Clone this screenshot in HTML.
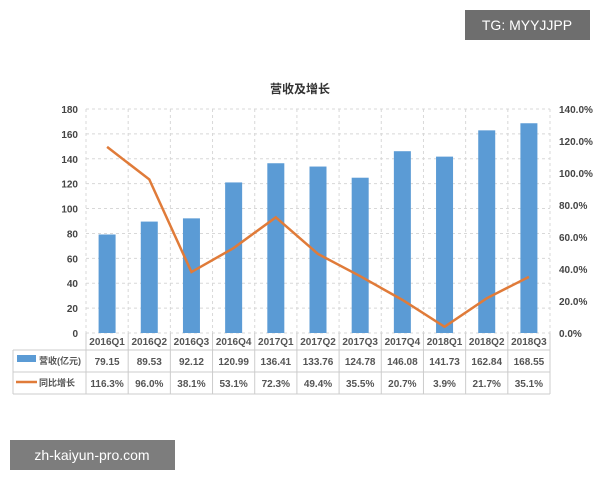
<!DOCTYPE html>
<html><head><meta charset="utf-8"><style>
body{margin:0;width:600px;height:480px;background:#fff;overflow:hidden;font-family:"Liberation Sans","Noto Sans CJK SC",sans-serif}
</style></head><body>
<svg id="c" width="600" height="480" xmlns="http://www.w3.org/2000/svg"></svg>
<script>
const categories=["2016Q1","2016Q2","2016Q3","2016Q4","2017Q1","2017Q2","2017Q3","2017Q4","2018Q1","2018Q2","2018Q3"];
const revenue=[79.15,89.53,92.12,120.99,136.41,133.76,124.78,146.08,141.73,162.84,168.55];
const growth=[116.3,96.0,38.1,53.1,72.3,49.4,35.5,20.7,3.9,21.7,35.1];
const leftTicks=[0,20,40,60,80,100,120,140,160,180];
const rightTicks=[0,20,40,60,80,100,120,140];
const svg=document.getElementById('c');const NS='http://www.w3.org/2000/svg';
function mk(t,a,txt){const e=document.createElementNS(NS,t);for(const k in a)e.setAttribute(k,a[k]);if(txt!=null)e.textContent=txt;svg.appendChild(e);return e;}
const X0=86,X1=550,Y0=333,Y1=109;const cw=(X1-X0)/categories.length;
const yL=v=>Y0-(v/180)*(Y0-Y1);const yR=v=>Y0-(v/140)*(Y0-Y1);const xc=i=>X0+cw*(i+0.5);
// grid
leftTicks.forEach(v=>{const l=mk('line',{x1:X0,x2:X1,y1:yL(v),y2:yL(v),stroke:'#d8d8d8','stroke-dasharray':'3,3'});
const t=mk('text',{x:78,y:yL(v)+4,'text-anchor':'end','font-size':10,'font-weight':'bold',fill:'#444'},v);});
for(let i=0;i<=categories.length;i++){mk('line',{x1:X0+cw*i,x2:X0+cw*i,y1:Y1,y2:Y0,stroke:'#d8d8d8','stroke-dasharray':'3,3'});}
rightTicks.forEach(v=>{const t=mk('text',{x:559,y:yR(v)+4,'font-size':10,'font-weight':'bold',fill:'#444'},v.toFixed(1)+'%');});
// bars
revenue.forEach((v,i)=>{const b=mk('rect',{x:xc(i)-8.5,y:yL(v),width:17,height:Y0-yL(v),fill:'#5b9bd5'});});
// line
const p=mk('polyline',{points:growth.map((v,i)=>xc(i)+','+yR(v)).join(' '),fill:'none',stroke:'#e07b39','stroke-width':2.5});

// table
const TL=13,r=[333,350,372,394];
mk('line',{x1:TL,x2:X1,y1:r[1],y2:r[1],stroke:'#ccc'});mk('line',{x1:TL,x2:X1,y1:r[2],y2:r[2],stroke:'#ccc'});mk('line',{x1:TL,x2:X1,y1:r[3],y2:r[3],stroke:'#ccc'});
mk('line',{x1:TL,x2:TL,y1:r[1],y2:r[3],stroke:'#ccc'});
for(let i=0;i<=categories.length;i++)mk('line',{x1:X0+cw*i,x2:X0+cw*i,y1:r[0],y2:r[3],stroke:'#ccc'});
categories.forEach((c,i)=>{
const a=mk('text',{x:xc(i),y:345,'text-anchor':'middle','font-size':10,'font-weight':'bold',fill:'#555'},c);
const b=mk('text',{x:xc(i),y:365,'text-anchor':'middle','font-size':10,'font-weight':'bold',fill:'#555'},revenue[i].toFixed(2));
const d=mk('text',{x:xc(i),y:387,'text-anchor':'middle','font-size':10,'font-weight':'bold',fill:'#555'},growth[i].toFixed(1)+'%');});
const lg1=mk('rect',{x:17,y:355,width:19,height:7,fill:'#5b9bd5'});
const lt1=mk('text',{x:39,y:364,'font-size':9,'font-weight':'bold',fill:'#555'},'营收(亿元)');
const lg2=mk('line',{x1:16,x2:37,y1:382,y2:382,stroke:'#e07b39','stroke-width':2.5});
const lt2=mk('text',{x:39,y:386,'font-size':9,'font-weight':'bold',fill:'#555'},'同比增长');
const ti=mk('text',{x:300,y:93,'text-anchor':'middle','font-size':12,'font-weight':'bold',fill:'#333'},'营收及增长');
// overlays
const o1=mk('rect',{x:465,y:10,width:125,height:30,fill:'#555','fill-opacity':0.85});
const o1t=mk('text',{x:527,y:30,'text-anchor':'middle','font-size':14,fill:'#fff'},'TG: MYYJJPP');
const o2=mk('rect',{x:10,y:440,width:165,height:30,fill:'#666','fill-opacity':0.85});
const o2t=mk('text',{x:92,y:460,'text-anchor':'middle','font-size':14,fill:'#fff'},'zh-kaiyun-pro.com');
</script>
</body></html>
